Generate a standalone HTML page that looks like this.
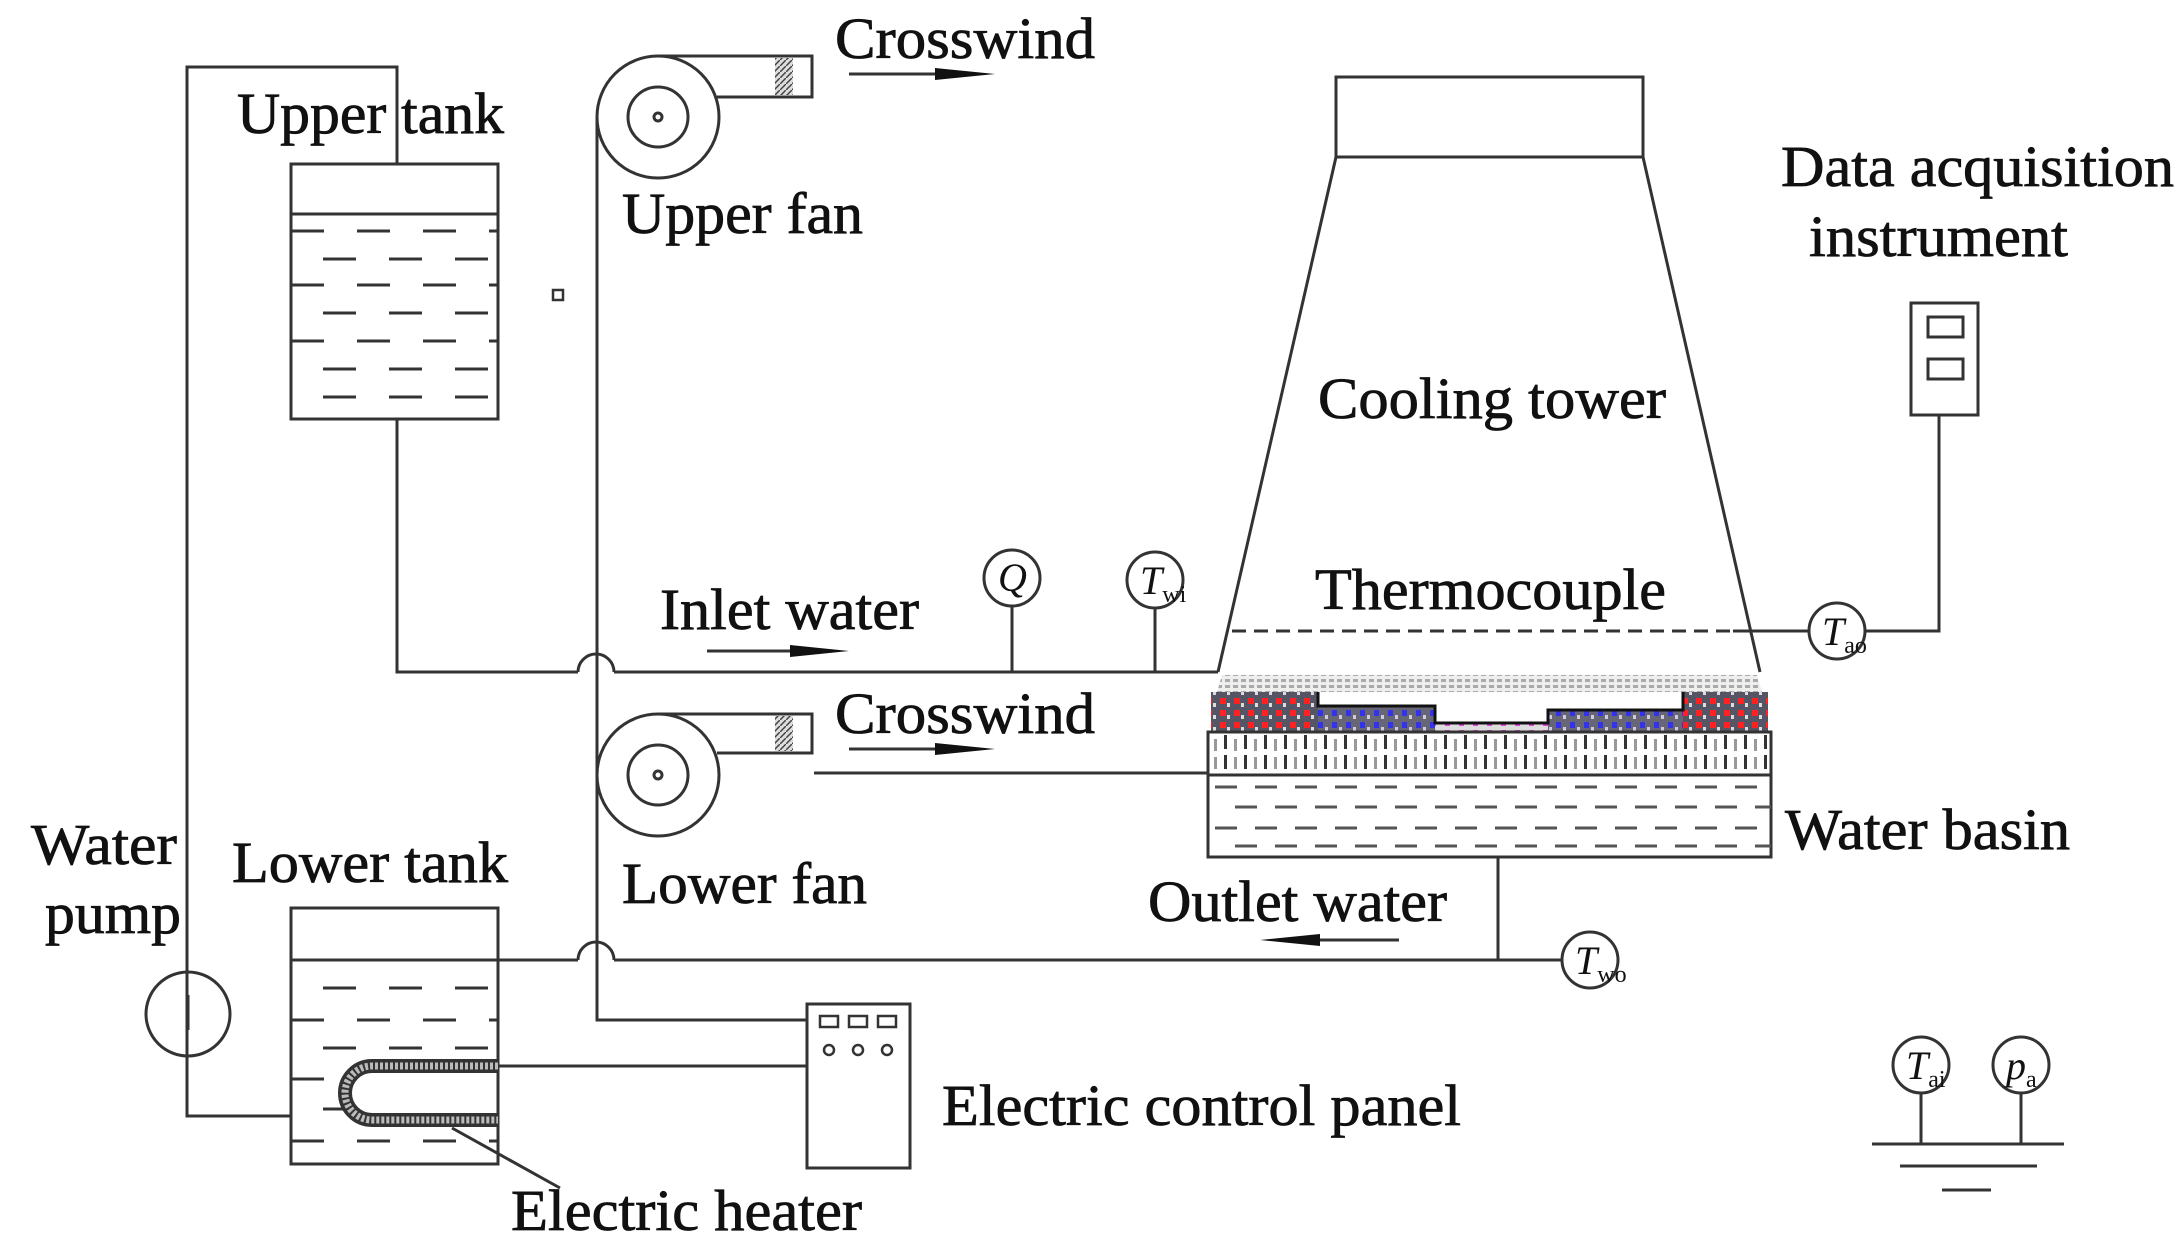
<!DOCTYPE html>
<html><head><meta charset="utf-8"><style>html,body{margin:0;padding:0;background:#fff}svg{display:block}text{font-family:"Liberation Serif",serif;fill:#111}</style></head><body>
<svg width="2182" height="1249" viewBox="0 0 2182 1249" xmlns="http://www.w3.org/2000/svg">
<defs>
<pattern id="hat" width="6" height="6" patternUnits="userSpaceOnUse"><rect width="6" height="6" fill="#ddd"/><path d="M0 6L6 0" stroke="#444" stroke-width="1.5"/></pattern>
<pattern id="gry" width="8" height="6" patternUnits="userSpaceOnUse"><rect width="8" height="6" fill="#eee"/><rect x="1" y="1" width="5" height="3" fill="#aaa"/></pattern>
<pattern id="red" width="14" height="12" patternUnits="userSpaceOnUse"><rect width="14" height="12" fill="#556"/><rect x="2" y="2" width="6" height="6" fill="#f22"/><rect x="9" y="7" width="3" height="4" fill="#ddd"/></pattern>
<pattern id="blu" width="14" height="12" patternUnits="userSpaceOnUse"><rect width="14" height="12" fill="#667"/><rect x="2" y="2" width="5" height="6" fill="#33e"/><rect x="9" y="7" width="3" height="4" fill="#ccd"/></pattern>
<pattern id="mag" width="14" height="8" patternUnits="userSpaceOnUse"><rect width="14" height="8" fill="#ddd"/><rect x="3" y="2" width="5" height="4" fill="#d4d"/></pattern>
<pattern id="vh" width="20" height="43" patternUnits="userSpaceOnUse"><rect width="20" height="43" fill="#fff"/><rect x="4" y="4" width="3" height="14" fill="#333"/><rect x="4" y="24" width="3" height="14" fill="#333"/><rect x="14" y="8" width="3" height="12" fill="#999"/><rect x="14" y="26" width="3" height="12" fill="#999"/></pattern>
</defs>
<g fill="none" stroke="#333" stroke-width="3">
<polyline points="291,1116 187,1116 187,67 397,67 397,164"/>
<circle cx="188" cy="1014" r="42"/>
<line x1="188" y1="995" x2="188" y2="1030"/>
<rect x="291" y="164" width="207" height="255"/>
<line x1="291" y1="214" x2="498" y2="214"/>
<rect x="291" y="908" width="207" height="256"/>
<line x1="291" y1="960" x2="498" y2="960"/>
<polyline points="397,419 397,672 578,672"/>
<path d="M578,672 A18,18 0 0 1 614,672"/>
<line x1="614" y1="672" x2="1218" y2="672"/>
<line x1="498" y1="960" x2="578" y2="960"/>
<path d="M578,960 A18,18 0 0 1 614,960"/>
<line x1="614" y1="960" x2="1562" y2="960"/>
<line x1="1498" y1="857" x2="1498" y2="960"/>
<polyline points="597,117 597,1020 807,1020"/>
<line x1="498" y1="1066" x2="807" y2="1066"/>
<line x1="452" y1="1128" x2="560" y2="1188"/>
<circle cx="658" cy="117" r="61"/><circle cx="658" cy="117" r="30"/><circle cx="658" cy="117" r="4"/>
<polyline points="658,56 812,56 812,97 717,97"/>
<circle cx="658" cy="775" r="61"/><circle cx="658" cy="775" r="30"/><circle cx="658" cy="775" r="4"/>
<polyline points="658,714 812,714 812,753 717,753"/>
<rect x="553" y="290" width="10" height="10" stroke-width="2.5"/>
<line x1="814" y1="773" x2="1208" y2="773"/>
<rect x="807" y="1004" width="103" height="164"/>
<rect x="1336" y="77" width="307" height="80"/>
<line x1="1336" y1="157" x2="1218" y2="672"/>
<line x1="1643" y1="157" x2="1760" y2="672"/>
<line x1="1232" y1="631" x2="1733" y2="631" stroke-dasharray="14,8"/>
<line x1="1733" y1="631" x2="1809" y2="631"/>
<polyline points="1865,631 1939,631 1939,415"/>
<rect x="1911" y="303" width="67" height="112"/>
<rect x="1928" y="317" width="35" height="20"/><rect x="1928" y="359" width="35" height="20"/>
<circle cx="1012" cy="578" r="28"/><line x1="1012" y1="606" x2="1012" y2="672"/>
<circle cx="1155" cy="580" r="28"/><line x1="1155" y1="608" x2="1155" y2="672"/>
<circle cx="1837" cy="631" r="28"/>
<circle cx="1590" cy="960" r="28"/>
<circle cx="1921" cy="1065" r="28"/><line x1="1921" y1="1093" x2="1921" y2="1144"/>
<circle cx="2021" cy="1065" r="28"/><line x1="2021" y1="1093" x2="2021" y2="1144"/>
<line x1="1872" y1="1144" x2="2064" y2="1144"/>
<line x1="1900" y1="1166" x2="2037" y2="1166"/>
<line x1="1942" y1="1190" x2="1991" y2="1190"/>
<line x1="849" y1="74" x2="960" y2="74"/>
<line x1="849" y1="749" x2="960" y2="749"/>
<line x1="707" y1="651" x2="815" y2="651"/>
<line x1="1290" y1="940" x2="1399" y2="940"/>
</g>
<g fill="#111">
<polygon points="935,68 995,74 935,80"/>
<polygon points="935,743 995,749 935,755"/>
<polygon points="790,645 849,651 790,657"/>
<polygon points="1320,934 1260,940 1320,946"/>
</g>
<rect x="775" y="58" width="18" height="37" fill="url(#hat)"/>
<rect x="775" y="716" width="18" height="35" fill="url(#hat)"/>
<g stroke="#333" stroke-width="3" stroke-dasharray="33,33">
<line x1="291" y1="231" x2="498" y2="231"/><line x1="323" y1="259" x2="498" y2="259"/>
<line x1="291" y1="285" x2="498" y2="285"/><line x1="323" y1="313" x2="498" y2="313"/>
<line x1="291" y1="341" x2="498" y2="341"/><line x1="323" y1="369" x2="498" y2="369"/>
<line x1="323" y1="397" x2="498" y2="397"/>
<line x1="323" y1="988" x2="498" y2="988"/><line x1="291" y1="1020" x2="498" y2="1020"/>
<line x1="323" y1="1048" x2="498" y2="1048"/><line x1="291" y1="1079" x2="350" y2="1079"/>
<line x1="323" y1="1109" x2="350" y2="1109"/><line x1="291" y1="1141" x2="498" y2="1141"/>
</g>
<path d="M498,1066 L372,1066 A27,27 0 0 0 372,1120 L498,1120" fill="none" stroke="#333" stroke-width="14"/>
<path d="M498,1066 L372,1066 A27,27 0 0 0 372,1120 L498,1120" fill="none" stroke="#bbb" stroke-width="7" stroke-dasharray="3,2"/>
<g fill="none" stroke="#333" stroke-width="2.5">
<rect x="820" y="1016" width="18" height="11"/><rect x="849" y="1016" width="18" height="11"/><rect x="878" y="1016" width="18" height="11"/>
<circle cx="829" cy="1050" r="5"/><circle cx="858" cy="1050" r="5"/><circle cx="887" cy="1050" r="5"/>
</g>
<polygon points="1222,675 1757,675 1762,692 1217,692" fill="url(#gry)"/>
<rect x="1211" y="692" width="107" height="40" fill="url(#red)"/>
<rect x="1318" y="706" width="117" height="26" fill="url(#blu)"/>
<rect x="1435" y="723" width="113" height="9" fill="url(#mag)"/>
<rect x="1548" y="710" width="135" height="22" fill="url(#blu)"/>
<rect x="1683" y="692" width="85" height="40" fill="url(#red)"/>
<polyline points="1318,692 1318,706 1435,706 1435,723 1548,723 1548,710 1683,710 1683,692" fill="none" stroke="#111" stroke-width="3"/>
<rect x="1208" y="732" width="563" height="43" fill="url(#vh)"/>
<rect x="1208" y="732" width="563" height="125" fill="none" stroke="#333" stroke-width="3"/>
<line x1="1208" y1="775" x2="1771" y2="775" stroke="#333" stroke-width="3"/>
<g stroke="#555" stroke-width="3" stroke-dasharray="22,18">
<line x1="1215" y1="787" x2="1771" y2="787"/><line x1="1235" y1="807" x2="1771" y2="807"/>
<line x1="1215" y1="828" x2="1771" y2="828"/><line x1="1235" y1="846" x2="1771" y2="846"/>
</g>
<g font-size="58" stroke="#111" stroke-width="0.8">
<text x="835" y="58" textLength="260" lengthAdjust="spacingAndGlyphs">Crosswind</text>
<text x="835" y="733" textLength="260" lengthAdjust="spacingAndGlyphs">Crosswind</text>
<text x="237" y="133" textLength="267" lengthAdjust="spacingAndGlyphs">Upper tank</text>
<text x="622" y="233" textLength="241" lengthAdjust="spacingAndGlyphs">Upper fan</text>
<text x="660" y="629" textLength="259" lengthAdjust="spacingAndGlyphs">Inlet water</text>
<text x="622" y="903" textLength="245" lengthAdjust="spacingAndGlyphs">Lower fan</text>
<text x="232" y="882" textLength="276" lengthAdjust="spacingAndGlyphs">Lower tank</text>
<text x="31" y="864" textLength="146" lengthAdjust="spacingAndGlyphs">Water</text>
<text x="45" y="933" textLength="136" lengthAdjust="spacingAndGlyphs">pump</text>
<text x="1148" y="921" textLength="299" lengthAdjust="spacingAndGlyphs">Outlet water</text>
<text x="511" y="1230" textLength="351" lengthAdjust="spacingAndGlyphs">Electric heater</text>
<text x="942" y="1125" textLength="519" lengthAdjust="spacingAndGlyphs">Electric control panel</text>
<text x="1318" y="418" textLength="348" lengthAdjust="spacingAndGlyphs">Cooling tower</text>
<text x="1315" y="609" textLength="351" lengthAdjust="spacingAndGlyphs">Thermocouple</text>
<text x="1785" y="849" textLength="285" lengthAdjust="spacingAndGlyphs">Water basin</text>
<text x="1781" y="186" textLength="393" lengthAdjust="spacingAndGlyphs">Data acquisition</text>
<text x="1809" y="256" textLength="259" lengthAdjust="spacingAndGlyphs">instrument</text>
</g>
<g font-style="italic" font-size="40">
<text x="998" y="591">Q</text>
<text x="1140" y="594">T<tspan font-size="24" font-style="normal" dy="8">wi</tspan></text>
<text x="1822" y="645">T<tspan font-size="24" font-style="normal" dy="8">ao</tspan></text>
<text x="1575" y="974">T<tspan font-size="24" font-style="normal" dy="8">wo</tspan></text>
<text x="1906" y="1079">T<tspan font-size="24" font-style="normal" dy="8">ai</tspan></text>
<text x="2006" y="1079">p<tspan font-size="24" font-style="normal" dy="8">a</tspan></text>
</g>
</svg>
</body></html>
